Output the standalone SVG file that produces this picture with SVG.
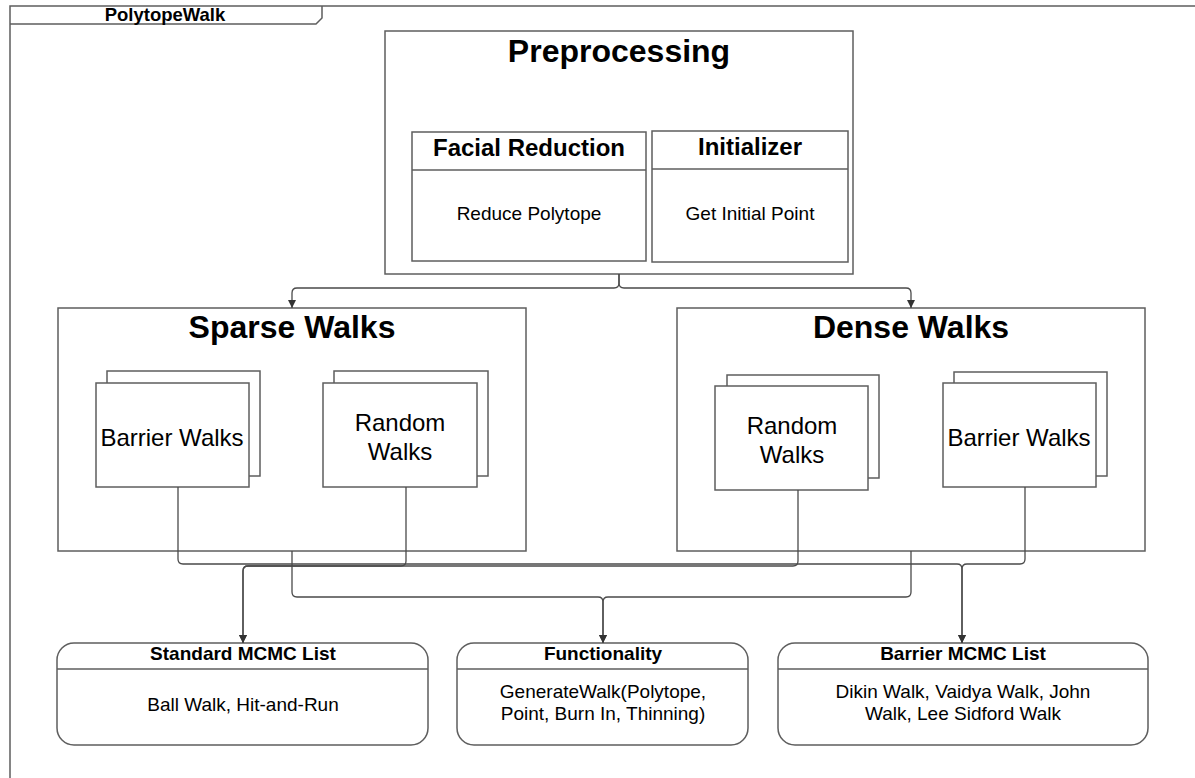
<svg xmlns="http://www.w3.org/2000/svg" width="1195" height="778" viewBox="0 0 1195 778">
<defs>
<style>
text{font-family:"Liberation Sans",Arial,sans-serif;fill:#000;text-anchor:middle}
.box{fill:#fff;stroke:#5e5e5e;stroke-width:1.5}
.frame{fill:none;stroke:#5e5e5e;stroke-width:1.5}
.div{stroke:#5e5e5e;stroke-width:1.5;fill:none}
.con{fill:none;stroke:#4a4a4a;stroke-width:1.3}
.t32{font-size:32px;font-weight:bold}
.t24b{font-size:24px;font-weight:bold}
.t24{font-size:24px}
.t18b{font-size:19px;font-weight:bold}
.t18{font-size:19px}
</style>
<marker id="arr" viewBox="0 0 10 10" refX="10" refY="5" markerWidth="8" markerHeight="8" markerUnits="userSpaceOnUse" orient="auto">
<path d="M0,0 L10,5 L0,10 z" fill="#333"/>
</marker>
</defs>
<rect width="1195" height="778" fill="#fff"/>
<g id="frame">
<path class="frame" d="M10,778 V6 H1195"/>
<path class="frame" d="M10,24 H316 L322,18 V6"/>
<text x="165" y="21" style="font-size:18.5px;font-weight:bold">PolytopeWalk</text>
</g>
<g id="preprocessing">
<rect class="box" x="385" y="31" width="468" height="243"/>
<text class="t32" x="619" y="62">Preprocessing</text>
</g>
<g id="facial-reduction">
<rect class="box" x="412" y="132" width="234" height="129"/>
<line class="div" x1="412" y1="170" x2="646" y2="170"/>
<text class="t24b" x="529" y="156">Facial Reduction</text>
<text class="t18" x="529" y="220">Reduce Polytope</text>
</g>
<g id="initializer">
<rect class="box" x="652" y="131" width="196" height="131"/>
<line class="div" x1="652" y1="169" x2="848" y2="169"/>
<text class="t24b" x="750" y="155">Initializer</text>
<text class="t18" x="750" y="220">Get Initial Point</text>
</g>
<g id="sparse-walks">
<rect class="box" x="58" y="308" width="468" height="243"/>
<text class="t32" x="292" y="338">Sparse Walks</text>
</g>
<g id="sparse-barrier">
<rect class="box" x="107" y="371" width="153" height="105"/>
<rect class="box" x="96" y="383" width="153" height="104"/>
<text class="t24" x="172" y="446">Barrier Walks</text>
</g>
<g id="sparse-random">
<rect class="box" x="334" y="371" width="154" height="105"/>
<rect class="box" x="323" y="383" width="154" height="104"/>
<text class="t24" x="400" y="431">Random</text>
<text class="t24" x="400" y="460">Walks</text>
</g>
<g id="dense-walks">
<rect class="box" x="677" y="308" width="468" height="243"/>
<text class="t32" x="911" y="338">Dense Walks</text>
</g>
<g id="dense-random">
<rect class="box" x="727" y="375" width="152" height="103"/>
<rect class="box" x="715" y="386" width="153" height="104"/>
<text class="t24" x="792" y="434">Random</text>
<text class="t24" x="792" y="463">Walks</text>
</g>
<g id="dense-barrier">
<rect class="box" x="954" y="372" width="153" height="104"/>
<rect class="box" x="943" y="383" width="153" height="104"/>
<text class="t24" x="1019" y="446">Barrier Walks</text>
</g>
<g id="standard-mcmc">
<rect class="box" x="57" y="643" width="371" height="102" rx="17"/>
<line class="div" x1="57" y1="669" x2="428" y2="669"/>
<text class="t18b" x="243" y="660">Standard MCMC List</text>
<text class="t18" x="243" y="711">Ball Walk, Hit-and-Run</text>
</g>
<g id="functionality">
<rect class="box" x="457" y="643" width="291" height="102" rx="17"/>
<line class="div" x1="457" y1="669" x2="748" y2="669"/>
<text class="t18b" x="603" y="660">Functionality</text>
<text class="t18" x="603" y="698">GenerateWalk(Polytope,</text>
<text class="t18" x="603" y="720">Point, Burn In, Thinning)</text>
</g>
<g id="barrier-mcmc">
<rect class="box" x="778" y="643" width="370" height="102" rx="17"/>
<line class="div" x1="778" y1="669" x2="1148" y2="669"/>
<text class="t18b" x="963" y="660">Barrier MCMC List</text>
<text class="t18" x="963" y="698">Dikin Walk, Vaidya Walk, John</text>
<text class="t18" x="963" y="720">Walk, Lee Sidford Walk</text>
</g>
<g id="connectors">
<path class="con" marker-end="url(#arr)" d="M619,274 V283 Q619,288 614,288 H297 Q292,288 292,293 V308"/>
<path class="con" marker-end="url(#arr)" d="M619,274 V283 Q619,288 624,288 H906 Q911,288 911,293 V308"/>
<path class="con" marker-end="url(#arr)" d="M178,487 V559 Q178,564 183,564 H957 Q962,564 962,569 V643"/>
<path class="con" marker-end="url(#arr)" d="M1025,487 V559 Q1025,564 1020,564 H967 Q962,564 962,569 V643"/>
<path class="con" marker-end="url(#arr)" d="M406,487 V561 Q406,566 401,566 H248 Q243,566 243,571 V643"/>
<path class="con" marker-end="url(#arr)" d="M798,490 V561 Q798,566 793,566 H248 Q243,566 243,571 V643"/>
<path class="con" marker-end="url(#arr)" d="M292,551 V592 Q292,597 297,597 H598 Q603,597 603,602 V643"/>
<path class="con" marker-end="url(#arr)" d="M911,551 V592 Q911,597 906,597 H608 Q603,597 603,602 V643"/>
</g>
</svg>
